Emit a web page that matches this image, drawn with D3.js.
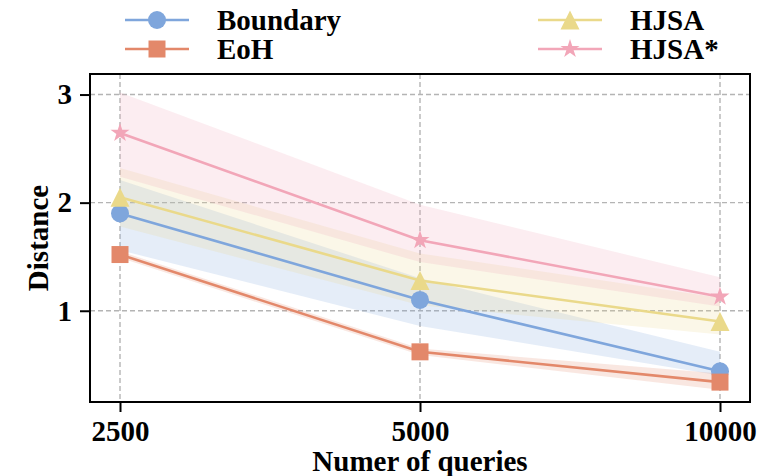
<!DOCTYPE html>
<html>
<head>
<meta charset="utf-8">
<script src="https://cdn.jsdelivr.net/npm/d3@7"></script>
<style>
  html, body { margin: 0; padding: 0; background: #fff; }
  svg { display: block; }
  text { font-family: "Liberation Serif", "Times New Roman", serif; font-weight: bold; }
</style>
</head>
<body>
<svg id="chart" width="780" height="476"></svg>
<script>
const categories = ["2500", "5000", "10000"];
const yTicks = [1, 2, 3];

const boundary   = [1.90, 1.10, 0.44];
const boundaryLo = [1.56, 0.86, 0.40];
const boundaryHi = [2.21, 1.30, 0.62];

const eoh   = [1.52, 0.62, 0.34];
const eohLo = [1.49, 0.59, 0.27];
const eohHi = [1.55, 0.65, 0.42];

const hjsa   = [2.05, 1.28, 0.90];
const hjsaLo = [1.78, 1.05, 0.78];
const hjsaHi = [2.32, 1.53, 1.12];

const hjsaStar   = [2.645, 1.653, 1.13];
const hjsaStarLo = [2.24, 1.45, 1.04];
const hjsaStarHi = [3.02, 1.98, 1.31];

const seriesNames = ["Boundary", "EoH", "HJSA", "HJSA*"];
const seriesColors = ["#7FA6DC", "#E3886A", "#EAD98A", "#F2A6B8"];
const seriesMarkers = ["circle", "square", "triangle", "star"];

const series = [
  { name: seriesNames[0], vals: boundary, lo: boundaryLo, hi: boundaryHi, color: seriesColors[0], marker: seriesMarkers[0] },
  { name: seriesNames[1], vals: eoh, lo: eohLo, hi: eohHi, color: seriesColors[1], marker: seriesMarkers[1] },
  { name: seriesNames[2], vals: hjsa, lo: hjsaLo, hi: hjsaHi, color: seriesColors[2], marker: seriesMarkers[2] },
  { name: seriesNames[3], vals: hjsaStar, lo: hjsaStarLo, hi: hjsaStarHi, color: seriesColors[3], marker: seriesMarkers[3] }
];

const svg = d3.select("#chart");
const pL = 90, pR = 750, pT = 74, pB = 402;

const x = d3.scalePoint().domain(categories).range([pL, pR]).padding(0.1);
const y = d3.scaleLinear().domain([0.156, 3.19]).range([pB, pT]);

// grid
const grid = svg.append("g");
grid.selectAll("line.gx").data(categories).enter().append("line")
  .attr("x1", d => x(d)).attr("x2", d => x(d)).attr("y1", pT).attr("y2", pB)
  .attr("stroke", "#b4b4b4").attr("stroke-width", 1.4).attr("stroke-dasharray", "5,3");
grid.selectAll("line.gy").data(yTicks).enter().append("line")
  .attr("x1", pL).attr("x2", pR).attr("y1", d => y(d)).attr("y2", d => y(d))
  .attr("stroke", "#b4b4b4").attr("stroke-width", 1.4).attr("stroke-dasharray", "5,3");

// bands
const area = d3.area()
  .x((d, i) => x(categories[i]))
  .y0(d => y(d[0]))
  .y1(d => y(d[1]));
series.forEach(s => {
  const pts = s.lo.map((l, i) => [l, s.hi[i]]);
  svg.append("path").attr("d", area(pts)).attr("fill", s.color).attr("fill-opacity", 0.2);
});

// marker symbols
function markerPath(type) {
  if (type === "circle") return d3.symbol(d3.symbolCircle, Math.PI * 9 * 9)();
  if (type === "square") { const h = 8.5; return `M${-h},${-h}H${h}V${h}H${-h}Z`; }
  if (type === "triangle") { const h = 9.5; return `M0,${-h}L${h},${h}L${-h},${h}Z`; }
  if (type === "star") {
    const R = 10, r = R * 0.382;
    let p = "";
    for (let k = 0; k < 10; k++) {
      const rad = k % 2 === 0 ? R : r;
      const a = -Math.PI / 2 + k * Math.PI / 5;
      p += (k === 0 ? "M" : "L") + (rad * Math.cos(a)).toFixed(2) + "," + (rad * Math.sin(a)).toFixed(2);
    }
    return p + "Z";
  }
}

// lines + markers
const line = d3.line().x((d, i) => x(categories[i])).y(d => y(d));
series.forEach(s => {
  const g = svg.append("g");
  g.append("path").attr("d", line(s.vals)).attr("fill", "none")
    .attr("stroke", s.color).attr("stroke-width", 2.6);
  g.selectAll("path.m").data(s.vals).enter().append("path")
    .attr("d", markerPath(s.marker))
    .attr("transform", (d, i) => `translate(${x(categories[i])},${y(d)})`)
    .attr("fill", s.color);
});

// frame
svg.append("rect").attr("x", pL).attr("y", pT).attr("width", pR - pL).attr("height", pB - pT)
  .attr("fill", "none").attr("stroke", "#000").attr("stroke-width", 2);

// axes
const xAxis = svg.append("g").attr("transform", `translate(0,${pB})`)
  .call(d3.axisBottom(x).tickSize(10).tickPadding(8));
const yAxis = svg.append("g").attr("transform", `translate(${pL},0)`)
  .call(d3.axisLeft(y).tickValues(yTicks).tickFormat(d3.format("d")).tickSize(10).tickPadding(8));
[xAxis, yAxis].forEach(a => {
  a.select(".domain").remove();
  a.selectAll(".tick line").attr("stroke", "#000").attr("stroke-width", 2);
  a.selectAll(".tick text").attr("fill", "#000").style("font-size", "29px")
    .style("font-family", '"Liberation Serif", serif').style("font-weight", "bold");
});

// axis titles
svg.append("text").attr("x", 420).attr("y", 471).attr("text-anchor", "middle")
  .style("font-size", "29px").text("Numer of queries");
svg.append("text").attr("transform", "translate(48,238) rotate(-90)").attr("text-anchor", "middle")
  .style("font-size", "29px").text("Distance");

// legend
const legendPos = [
  { lx: 125, ty: 20 }, { lx: 125, ty: 49 }, { lx: 538, ty: 20 }, { lx: 538, ty: 49 }
];
series.forEach((s, i) => {
  const p = legendPos[i];
  const g = svg.append("g");
  g.append("line").attr("x1", p.lx).attr("x2", p.lx + 64).attr("y1", p.ty).attr("y2", p.ty)
    .attr("stroke", s.color).attr("stroke-width", 2.6);
  g.append("path").attr("d", markerPath(s.marker))
    .attr("transform", `translate(${p.lx + 32},${p.ty})`).attr("fill", s.color);
  g.append("text").attr("x", p.lx + 92).attr("y", p.ty + 10).style("font-size", "29px").text(s.name);
});
</script>
</body>
</html>
